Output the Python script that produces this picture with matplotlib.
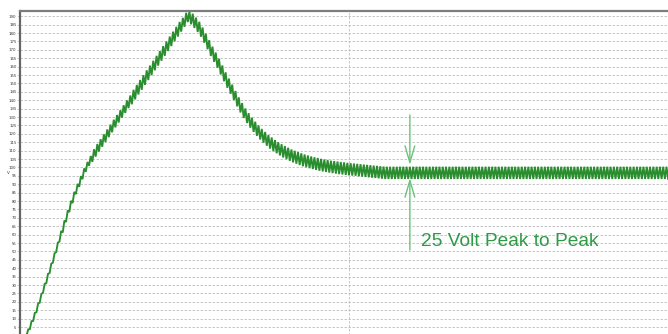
import numpy as np
import matplotlib
matplotlib.use("Agg")
import matplotlib.pyplot as plt

t_start = 0.02
t_step = 0.005
volts = [
    0.0, 3.6, 3.7, 8.5, 8.6, 13.4, 13.8, 19.0, 19.5, 24.7,
    25.4, 30.7, 31.1, 36.6, 37.1, 42.7, 43.3, 48.9, 49.6, 55.2,
    55.9, 62.1, 61.3, 68.4, 67.5, 74.4, 73.4, 80.1, 78.8, 85.4,
    84.1, 90.2, 88.4, 94.8, 93.0, 99.4, 97.4, 103.2, 101.0, 106.8,
    103.3, 110.8, 106.4, 113.9, 109.4, 116.8, 112.3, 119.7, 115.1, 122.6,
    118.0, 125.5, 120.9, 128.4, 123.8, 131.2, 126.7, 134.1, 129.6, 137.0,
    132.4, 139.9, 135.3, 142.8, 137.6, 146.2, 140.5, 149.1, 143.4, 152.0,
    146.2, 154.9, 149.1, 157.8, 152.0, 160.6, 154.9, 163.5, 157.8, 166.4,
    160.6, 169.3, 163.5, 172.2, 166.4, 175.0, 169.3, 177.9, 172.2, 180.8,
    175.0, 183.7, 177.9, 186.6, 180.8, 189.0, 183.7, 192.0, 186.5, 192.9,
    185.2, 191.5, 183.0, 189.2, 180.6, 186.7, 177.8, 183.3, 174.2, 179.6,
    170.3, 175.7, 166.3, 171.9, 162.8, 168.4, 159.3, 164.7, 155.3, 160.7,
    151.3, 156.6, 147.4, 152.9, 143.8, 149.3, 140.1, 145.5, 136.3, 141.7,
    132.7, 138.3, 129.4, 135.1, 126.4, 132.3, 123.6, 129.6, 121.1, 127.2,
    118.8, 125.0, 116.6, 122.9, 114.7, 121.1, 112.9, 119.3, 111.2, 117.8,
    109.7, 116.3, 108.4, 115.0, 107.1, 113.8, 105.9, 112.7, 104.9, 111.7,
    103.9, 110.7, 103.0, 109.9, 102.2, 109.1, 101.4, 108.4, 100.7, 107.7,
    100.1, 107.1, 99.5, 106.5, 99.0, 106.0, 98.5, 105.6, 98.0, 105.1,
    97.6, 104.7, 97.3, 104.4, 96.9, 104.0, 96.6, 103.8, 96.3, 103.5,
    96.0, 103.2, 95.8, 103.0, 95.5, 102.7, 95.3, 102.5, 95.1, 102.3,
    95.0, 102.1, 94.7, 101.9, 94.5, 101.7, 94.3, 101.5, 94.1, 101.3,
    93.9, 101.1, 93.7, 100.9, 93.5, 100.7, 93.3, 100.5, 93.1, 100.4,
    93.1, 100.4, 93.1, 100.4, 93.1, 100.4, 93.1, 100.4, 93.1, 100.4,
    93.1, 100.4, 93.1, 100.4, 93.1, 100.4, 93.1, 100.4, 93.1, 100.4,
    93.1, 100.4, 93.1, 100.4, 93.1, 100.4, 93.1, 100.4, 93.1, 100.4,
    93.1, 100.4, 93.1, 100.4, 93.1, 100.4, 93.1, 100.4, 93.1, 100.4,
    93.1, 100.4, 93.1, 100.4, 93.1, 100.4, 93.1, 100.4, 93.1, 100.4,
    93.1, 100.4, 93.1, 100.4, 93.1, 100.4, 93.1, 100.4, 93.1, 100.4,
    93.1, 100.4, 93.1, 100.4, 93.1, 100.4, 93.1, 100.4, 93.1, 100.4,
    93.1, 100.4, 93.1, 100.4, 93.1, 100.4, 93.1, 100.4, 93.1, 100.4,
    93.1, 100.4, 93.1, 100.4, 93.1, 100.4, 93.1, 100.4, 93.1, 100.4,
    93.1, 100.4, 93.1, 100.4, 93.1, 100.4, 93.1, 100.4, 93.1, 100.4,
    93.1, 100.4, 93.1, 100.4, 93.1, 100.4, 93.1, 100.4, 93.1, 100.4,
    93.1, 100.4, 93.1, 100.4, 93.1, 100.4, 93.1, 100.4, 93.1, 100.4,
    93.1, 100.4, 93.1, 100.4, 93.1, 100.4, 93.1, 100.4, 93.1, 100.4,
    93.1, 100.4, 93.1, 100.4, 93.1, 100.4, 93.1, 100.4, 93.1, 100.4,
    93.1, 100.4, 93.1, 100.4, 93.1, 100.4, 93.1, 100.4, 93.1, 100.4,
    93.1, 100.4, 93.1, 100.4, 93.1, 100.4, 93.1, 100.4, 93.1, 100.4,
    93.1, 100.4, 93.1, 100.4, 93.1, 100.4, 93.1, 100.4, 93.1, 100.4,
    93.1,
]
time_ms = t_start + t_step * np.arange(len(volts))

y_ticks = list(range(0, 195, 5))
y_tick_labels = ["" if v == 0 else str(v) for v in y_ticks]
x_grid = [0, 1, 2]

annot_text = "25 Volt Peak to Peak"
annot_t = 1.185
ripple_top = 101.4
ripple_bottom = 93.7
arrow_top_start = 131.2
arrow_bottom_start = 50.8
text_t = 1.219
text_v = 56.0

# ---- figure ----
W, H = 668, 334
fig = plt.figure(figsize=(W / 100, H / 100), dpi=100)
left_px, top_px = 20, 11
right_px = 680
y_lo, y_hi = -5.0, 193.1
bottom_px = 343.8
ax = fig.add_axes([left_px / W, (H - bottom_px) / H,
                   (right_px - left_px) / W, (bottom_px - top_px) / H])
ax.set_xlim(0, 2.006)
ax.set_ylim(y_lo, y_hi)

grid_kw = dict(color="#bdbdbd", linewidth=0.6, linestyle=(0, (3, 1.8)))
ax.set_yticks(y_ticks)
ax.set_yticklabels(y_tick_labels)
ax.set_xticks(x_grid)
ax.set_xticklabels([])
ax.grid(True, axis="both", **grid_kw)
ax.set_axisbelow(True)
ax.tick_params(axis="y", length=1.5, width=0.5, pad=1, labelsize=2.8,
               labelcolor="#333333", color="#555555")
ax.tick_params(axis="x", length=0)

for side in ("right", "bottom"):
    ax.spines[side].set_visible(False)
ax.spines["left"].set_color("#666666")
ax.spines["left"].set_linewidth(1.6)
ax.spines["top"].set_color("#7d7d7d")
ax.spines["top"].set_linewidth(1.6)

ax.plot(time_ms, volts, color="#2a8e2f", linewidth=1.35, solid_joinstyle="miter",
        clip_on=True)

ann_color = "#6cc27c"
arrow_kw = dict(arrowstyle="->,head_length=1.2,head_width=0.35",
                color=ann_color, linewidth=1.0, shrinkA=0, shrinkB=0)
ax.annotate("", xy=(annot_t, ripple_top), xytext=(annot_t, arrow_top_start),
            arrowprops=arrow_kw)
ax.annotate("", xy=(annot_t, ripple_bottom), xytext=(annot_t, arrow_bottom_start),
            arrowprops=arrow_kw)
ax.text(text_t, text_v, annot_text, color="#2f9a45", fontsize=13.8,
        family="Liberation Sans", va="center", ha="left")

fig.text(8 / W, 1 - 173 / H, "V", fontsize=3, color="#333333",
         ha="center", va="center")

fig.savefig("out.png", dpi=100)
